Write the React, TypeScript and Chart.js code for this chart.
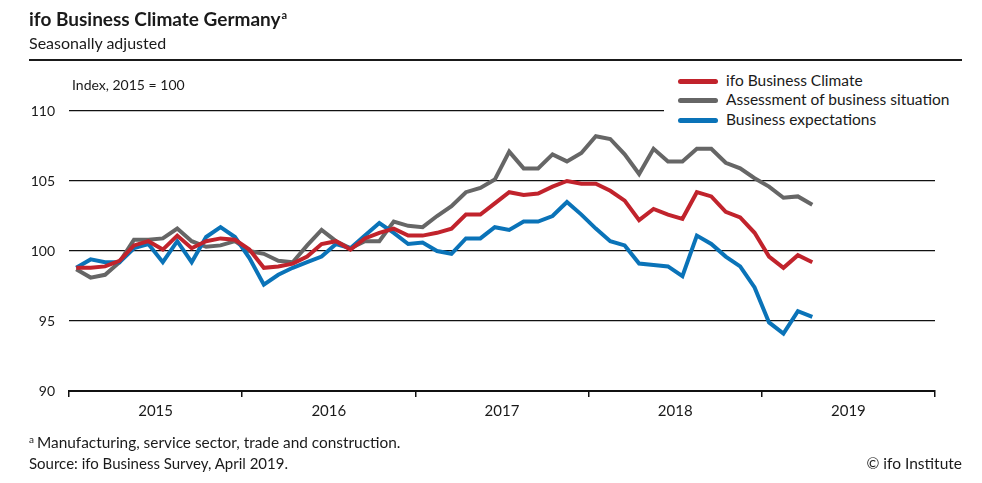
import React, { useEffect, useRef } from 'react';
import { Chart, registerables } from 'chart.js';

Chart.register(...registerables);

const years = ['2015', '2016', '2017', '2018', '2019'];
const monthsPerYear = 12;

const seriesNames = ['ifo Business Climate', 'Assessment of business situation', 'Business expectations'];
const seriesColors = ['#C1232C', '#666666', '#0A73B8'];

const climate = [
  98.8, 98.8, 98.9, 99.3, 100.4, 100.7, 100.1, 101.1, 100.2, 100.7, 100.9, 100.8,
  100.1, 98.8, 98.9, 99.1, 99.6, 100.5, 100.7, 100.1, 100.9, 101.3, 101.6, 101.1,
  101.1, 101.3, 101.6, 102.6, 102.6, 103.4, 104.2, 104.0, 104.1, 104.6, 105.0, 104.8,
  104.8, 104.3, 103.6, 102.2, 103.0, 102.6, 102.3, 104.2, 103.9, 102.8, 102.4, 101.3,
  99.6, 98.8, 99.7, 99.2,
];

const situation = [
  98.7, 98.1, 98.3, 99.2, 100.8, 100.8, 100.9, 101.6, 100.7, 100.3, 100.4, 100.7,
  100.0, 99.8, 99.3, 99.2, 100.4, 101.5, 100.7, 100.2, 100.7, 100.7, 102.1, 101.8,
  101.7, 102.5, 103.2, 104.2, 104.5, 105.1, 107.1, 105.9, 105.9, 106.9, 106.4, 107.0,
  108.2, 108.0, 106.9, 105.5, 107.3, 106.4, 106.4, 107.3, 107.3, 106.3, 105.9, 105.2,
  104.6, 103.8, 103.9, 103.3,
];

const expectations = [
  98.8, 99.4, 99.2, 99.2, 100.2, 100.5, 99.2, 100.7, 99.2, 101.0, 101.7, 101.0,
  99.5, 97.6, 98.3, 98.8, 99.2, 99.6, 100.5, 100.2, 101.1, 102.0, 101.3, 100.5,
  100.6, 100.0, 99.8, 100.9, 100.9, 101.7, 101.5, 102.1, 102.1, 102.5, 103.5, 102.6,
  101.6, 100.7, 100.4, 99.1, 99.0, 98.9, 98.2, 101.1, 100.5, 99.6, 98.9, 97.4,
  94.9, 94.1, 95.7, 95.3,
];

const yMin = 90;
const yMax = 110;
const yStep = 5;

const FONT = 'Lato, "Noto Sans", sans-serif';

export default function App() {
  const canvasRef = useRef<HTMLCanvasElement | null>(null);

  useEffect(() => {
    const canvas = canvasRef.current;
    if (!canvas) return;
    Chart.defaults.font.family = FONT;
    const totalSlots = years.length * monthsPerYear;
    const toPoints = (arr: number[]) => arr.map((v, i) => ({ x: i + 0.5, y: v }));
    const allSeries = [climate, situation, expectations];

    const chart = new Chart(canvas, {
      type: 'line',
      data: {
        datasets: allSeries.map((arr, k) => ({
          label: seriesNames[k],
          data: toPoints(arr),
          borderColor: seriesColors[k],
          backgroundColor: seriesColors[k],
          borderWidth: 4,
          pointRadius: 0,
          tension: 0,
          fill: false,
          order: k === 0 ? 0 : k === 1 ? 2 : 1,
        })),
      },
      options: {
        animation: false,
        responsive: false,
        devicePixelRatio: 1,
        events: [],
        layout: { padding: { top: 111, left: 0, right: 47, bottom: 52 } },
        plugins: {
          legend: { display: false },
          tooltip: { enabled: false },
          title: { display: false },
        },
        scales: {
          x: {
            type: 'linear',
            min: 0,
            max: totalSlots,
            afterBuildTicks: (scale: any) => {
              const t = [];
              for (let v = 0; v <= totalSlots; v += monthsPerYear / 2) t.push({ value: v });
              scale.ticks = t;
            },
            afterFit: (scale: any) => {
              scale.height = 40;
            },
            border: { display: true, color: '#111', width: 2 },
            grid: {
              drawOnChartArea: false,
              drawTicks: true,
              tickLength: 6,
              lineWidth: 1.5,
              color: (ctx: any) =>
                ctx.tick && ctx.tick.value % monthsPerYear === 0 ? '#111' : 'rgba(0,0,0,0)',
            },
            ticks: {
              autoSkip: false,
              maxRotation: 0,
              padding: 5,
              color: '#1a1a1a',
              font: { size: 15, family: FONT },
              callback: (v: any) => {
                const n = Number(v);
                if (n % monthsPerYear === monthsPerYear / 2) {
                  return years[(n - monthsPerYear / 2) / monthsPerYear];
                }
                return '';
              },
            },
          },
          y: {
            min: yMin,
            max: yMax,
            afterFit: (scale: any) => {
              scale.width = 69;
            },
            border: { display: false },
            grid: { drawTicks: false, color: '#111', lineWidth: 1.3 },
            ticks: {
              stepSize: yStep,
              padding: 14,
              color: '#1a1a1a',
              font: { size: 14, family: FONT },
            },
          },
        },
      },
    } as any);
    return () => chart.destroy();
  }, []);

  const txt: React.CSSProperties = {
    position: 'absolute',
    lineHeight: 1,
    whiteSpace: 'nowrap',
    color: '#1a1a1a',
    margin: 0,
  };

  return (
    <div
      style={{
        position: 'fixed',
        left: 0,
        top: 0,
        width: 982,
        height: 483,
        background: '#fff',
        fontFamily: FONT,
        overflow: 'hidden',
      }}
    >
      <canvas
        ref={canvasRef}
        width={982}
        height={483}
        style={{ position: 'absolute', left: 0, top: 0, width: 982, height: 483 }}
      />
      <div style={{ ...txt, left: 29, top: 9, fontSize: 19, fontWeight: 700 }}>
        ifo Business Climate Germany
        <span style={{ fontSize: 11, position: 'relative', top: -7, marginLeft: 1 }}>a</span>
      </div>
      <div style={{ ...txt, left: 29, top: 35, fontSize: 16 }}>Seasonally adjusted</div>
      <div style={{ position: 'absolute', left: 29, top: 59, width: 933, height: 2, background: '#1a1a1a' }} />
      <div style={{ ...txt, left: 72, top: 78, fontSize: 14 }}>Index, 2015 = 100</div>

      <div
        style={{
          position: 'absolute',
          left: 664,
          top: 68,
          width: 298,
          height: 62,
          background: '#fff',
          zIndex: 1,
        }}
      >
        {seriesNames.map((name, k) => {
          const cy = [13.7, 32.7, 52][k];
          return (
            <React.Fragment key={name}>
              <div
                style={{
                  position: 'absolute',
                  left: 14,
                  top: cy - 2.5,
                  width: 40,
                  height: 5,
                  borderRadius: 3,
                  background: seriesColors[k],
                }}
              />
              <div style={{ ...txt, left: 62, top: cy - 8.5, fontSize: 15.5 }}>{name}</div>
            </React.Fragment>
          );
        })}
      </div>

      <div style={{ ...txt, left: 29, top: 435, fontSize: 15.4 }}>
        <span style={{ fontSize: 10, position: 'relative', top: -5, marginRight: 3 }}>a</span>
        Manufacturing, service sector, trade and construction.
      </div>
      <div style={{ ...txt, left: 29, top: 456, fontSize: 15 }}>Source: ifo Business Survey, April 2019.</div>
      <div style={{ ...txt, right: 20, top: 456, fontSize: 15.5 }}>© ifo Institute</div>
    </div>
  );
}
